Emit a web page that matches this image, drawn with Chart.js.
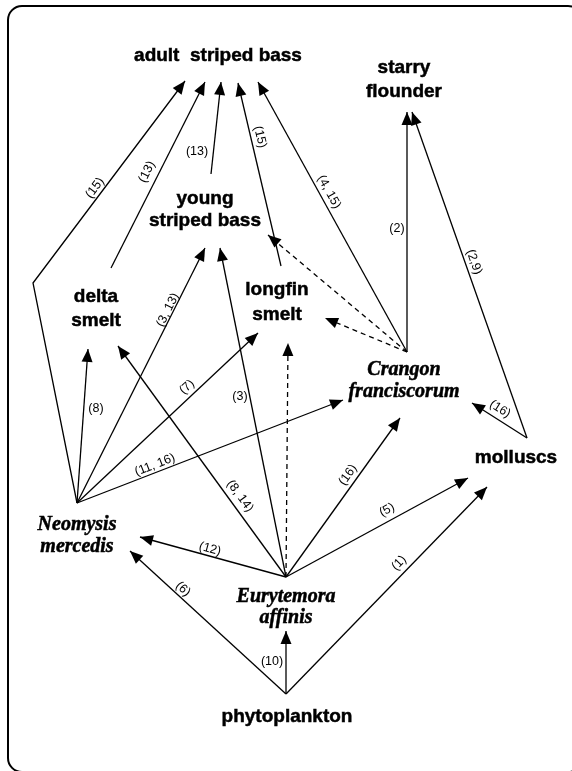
<!DOCTYPE html>
<html>
<head>
<meta charset="utf-8">
<script src="https://cdn.jsdelivr.net/npm/chart.js@4/dist/chart.umd.min.js"></script>
<style>
body{margin:0;background:#fff;}
#wrap{width:572px;height:771px;}
</style>
</head>
<body>
<div id="wrap"><canvas id="web" width="572" height="771"></canvas></div>
<script>
// nodes that feed others: point where their arrows start
var nodeNames = ['phytoplankton', 'Eurytemora', 'Neomysis', 'molluscs', 'Crangon', 'delta smelt', 'young bass', 'longfin smelt'];
var nodeX = [286, 286, 77, 527, 407, 111, 211, 281];
var nodeY = [694, 577, 503, 438, 352, 268, 174, 266];

// feeding links: source node, arrow tip, reference numbers, uncertain (dashed)
var edgeFrom = ['phytoplankton', 'phytoplankton', 'phytoplankton',
    'Eurytemora', 'Eurytemora', 'Eurytemora', 'Eurytemora', 'Eurytemora', 'Eurytemora',
    'Neomysis', 'Neomysis', 'Neomysis', 'Neomysis', 'Neomysis',
    'delta smelt', 'young bass', 'longfin smelt',
    'Crangon', 'Crangon', 'Crangon', 'Crangon',
    'molluscs', 'molluscs'];
var headX = [130, 286, 487,  140, 118, 220, 288, 400, 468,  88, 205, 258, 343, 185,  205, 221, 238,  258, 407, 268, 325,  412, 472];
var headY = [551, 631, 487,  537, 346, 248, 343, 418, 478,  349, 248, 333, 400, 81,  82, 82, 83,  82, 112, 235, 318,  112, 403];
var viaX = [null, null, null, null, null, null, null, null, null, null, null, null, null, 33, null, null, null, null, null, null, null, null, null];
var viaY = [null, null, null, null, null, null, null, null, null, null, null, null, null, 283, null, null, null, null, null, null, null, null, null];
var edgeLabel = ['(6)', '(10)', '(1)',  '(12)', '(8, 14)', '(3)', '', '(16)', '(5)',
    '(8)', '(3, 13)', '(7)', '(11, 16)', '(15)',  '(13)', '(13)', '(15)',
    '(4, 15)', '(2)', '', '',  '(2,9)', '(16)'];
var edgeDashed = [false, false, false, false, false, false, true, false, false,
    false, false, false, false, false, false, false, false,
    false, false, true, true, false, false];

// where the reference numbers sit
var labelX = [183, 272, 399,  210, 240, 240, 0, 348, 387,  96, 168, 187, 155, 95,  147, 197, 260,  329, 397, 0, 0,  474, 500];
var labelY = [589, 662, 563,  549, 496, 397, 0, 475, 510,  409, 310, 387, 465, 188,  172, 152, 137,  192, 229, 0, 0,  262, 409];
var labelFlat = [false, true, false,  false, false, true, true, false, false,
    true, false, false, false, false,  false, true, false,
    false, true, true, true,  false, false];

// names of the organisms as printed
var textLines = [['adult  striped bass'], ['starry', 'flounder'], ['young', 'striped bass'],
    ['delta', 'smelt'], ['longfin', 'smelt'], ['Crangon', 'franciscorum'], ['molluscs'],
    ['Neomysis', 'mercedis'], ['Eurytemora', 'affinis'], ['phytoplankton']];
var textItalic = [false, false, false, false, false, true, false, true, true, false];
var textX = [218, 404, 205, 96, 277, 404, 516, 77, 286, 287];
var textY = [[61], [73, 97], [204, 226], [302, 326], [295, 320], [375, 397], [463], [530, 552], [602, 623], [722]];

function segStart(i){
    if (viaX[i] != null) return {x: viaX[i], y: viaY[i]};
    var k = nodeNames.indexOf(edgeFrom[i]);
    return {x: nodeX[k], y: nodeY[k]};
}

var datasets = [];
for (var i = 0; i < edgeFrom.length; i++){
    var k = nodeNames.indexOf(edgeFrom[i]);
    var pts = [{x: nodeX[k], y: nodeY[k]}];
    if (viaX[i] != null){
        pts.push({x: viaX[i], y: viaY[i]});
    }
    pts.push({x: headX[i], y: headY[i]});
    datasets.push({
        data: pts,
        showLine: true,
        borderColor: '#000',
        borderWidth: 1.3,
        borderDash: edgeDashed[i] ? [5, 4] : [],
        pointRadius: 0,
        tension: 0,
        fill: false
    });
}

var foodWeb = {
    id: 'foodWeb',
    beforeDatasetsDraw: function(chart){
        var ctx = chart.ctx;
        // the rounded frame round the figure
        var l = 8, t = 6, r = 582, b = 772, rad = 14;
        ctx.save();
        ctx.strokeStyle = '#000';
        ctx.lineWidth = 2;
        ctx.beginPath();
        ctx.moveTo(l + rad, t);
        ctx.lineTo(r - rad, t);
        ctx.arcTo(r, t, r, t + rad, rad);
        ctx.lineTo(r, b - rad);
        ctx.arcTo(r, b, r - rad, b, rad);
        ctx.lineTo(l + rad, b);
        ctx.arcTo(l, b, l, b - rad, rad);
        ctx.lineTo(l, t + rad);
        ctx.arcTo(l, t, l + rad, t, rad);
        ctx.closePath();
        ctx.stroke();
        ctx.restore();
    },
    afterDatasetsDraw: function(chart){
        var ctx = chart.ctx;
        var xs = chart.scales.x, ys = chart.scales.y;
        ctx.save();
        ctx.fillStyle = '#000';
        ctx.strokeStyle = '#000';
        // arrow heads
        for (var i = 0; i < edgeFrom.length; i++){
            var s = segStart(i);
            var x0 = xs.getPixelForValue(s.x), y0 = ys.getPixelForValue(s.y);
            var x1 = xs.getPixelForValue(headX[i]), y1 = ys.getPixelForValue(headY[i]);
            var a = Math.atan2(y1 - y0, x1 - x0);
            var len = 13, half = 5.5;
            ctx.beginPath();
            ctx.moveTo(x1, y1);
            ctx.lineTo(x1 - len * Math.cos(a) + half * Math.sin(a), y1 - len * Math.sin(a) - half * Math.cos(a));
            ctx.lineTo(x1 - len * Math.cos(a) - half * Math.sin(a), y1 - len * Math.sin(a) + half * Math.cos(a));
            ctx.closePath();
            ctx.fill();
        }
        // reference numbers along the links
        ctx.font = '12.5px "Liberation Sans", Arial, sans-serif';
        ctx.textAlign = 'center';
        ctx.textBaseline = 'middle';
        for (var i = 0; i < edgeFrom.length; i++){
            if (edgeLabel[i] == '') continue;
            var s = segStart(i);
            var a = 0;
            if (!labelFlat[i]){
                a = Math.atan2(ys.getPixelForValue(headY[i]) - ys.getPixelForValue(s.y),
                               xs.getPixelForValue(headX[i]) - xs.getPixelForValue(s.x));
                if (a > Math.PI / 2) a -= Math.PI;
                if (a < -Math.PI / 2) a += Math.PI;
            }
            ctx.save();
            ctx.translate(xs.getPixelForValue(labelX[i]), ys.getPixelForValue(labelY[i]));
            ctx.rotate(a);
            ctx.fillText(edgeLabel[i], 0, 0);
            ctx.restore();
        }
        // organism names
        ctx.textBaseline = 'alphabetic';
        ctx.lineWidth = 0.5;
        for (var j = 0; j < textLines.length; j++){
            if (textItalic[j]){
                ctx.font = 'italic bold 20px "Liberation Serif", "Times New Roman", serif';
            }
            else{
                ctx.font = 'bold 19px "Liberation Sans", Arial, sans-serif';
            }
            for (var n = 0; n < textLines[j].length; n++){
                var px = xs.getPixelForValue(textX[j]), py = ys.getPixelForValue(textY[j][n]);
                ctx.fillText(textLines[j][n], px, py);
                ctx.strokeText(textLines[j][n], px, py);
            }
        }
        ctx.restore();
    }
};

var chart = new Chart(document.getElementById('web').getContext('2d'), {
    type: 'scatter',
    data: {datasets: datasets},
    options: {
        responsive: false,
        devicePixelRatio: 1,
        animation: false,
        events: [],
        layout: {padding: 0},
        plugins: {legend: {display: false}, tooltip: {enabled: false}},
        scales: {
            x: {type: 'linear', min: 0, max: 572, display: false},
            y: {type: 'linear', min: 0, max: 771, reverse: true, display: false}
        }
    },
    plugins: [foodWeb]
});
</script>
</body>
</html>
